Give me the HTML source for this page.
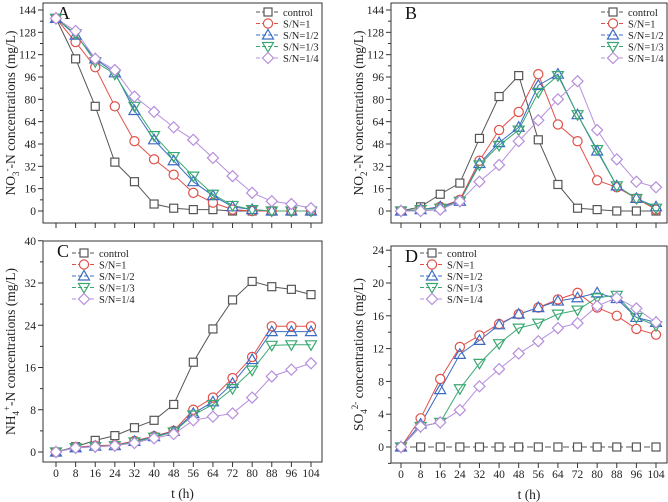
<!DOCTYPE html>
<html><head><meta charset="utf-8"><style>
body{margin:0;background:#fff}
svg{display:block;font-family:"Liberation Serif",serif}
</style></head><body>
<svg id="chart" width="668" height="502" viewBox="0 0 668 502" xmlns="http://www.w3.org/2000/svg"></svg>
<script>
const times = [0,8,16,24,32,40,48,56,64,72,80,88,96,104];
const seriesNames = ["control","S/N=1","S/N=1/2","S/N=1/3","S/N=1/4"];
const aControl = [138,109,75,35,21,5,2,1,1,0,0,0,0,0];
const aSN1 = [138,121,103,75,50,37,26,13,6,1,0,0,0,0];
const aSN2 = [138,126,109,99,72,51,36,21,11,3,1,0,0,0];
const aSN3 = [138,127,107,98,75,54,39,25,12,4,1,0,0,0];
const aSN4 = [138,129,109,101,82,71,60,51,38,25,13,7,5,2];
const bControl = [0,3,12,20,52,82,97,51,19,2,1,0,0,0];
const bSN1 = [0,1,3,8,36,58,71,98,62,50,22,17,9,1];
const bSN2 = [0,1,3,7,34,49,60,90,98,69,43,18,9,3];
const bSN3 = [0,1,2,7,33,47,58,85,97,69,44,18,9,2];
const bSN4 = [0,0,1,7,21,33,50,65,80,93,58,37,21,17];
const cControl = [0,1,2.2,3.1,4.6,6,9,17,23.3,28.8,32.3,31.3,30.8,29.8];
const cSN1 = [0,0.9,1.2,1.3,2.1,3,4,8,10.3,14,18,23.8,23.8,23.8];
const cSN2 = [0,0.8,1.1,1.2,2,2.9,3.9,7.3,9.5,13,17.5,22.8,22.8,22.8];
const cSN3 = [0,0.8,1,1.2,1.9,2.8,3.8,7,9,12,15.5,20.2,20.3,20.3];
const cSN4 = [0,0.8,1,1.2,1.7,2.6,3.4,6,6.7,7.3,10.3,14.3,15.6,16.8];
const dControl = [0,0,0,0,0,0,0,0,0,0,0,0,0,0];
const dSN1 = [0,3.5,8.3,12.2,13.6,15,16.2,17,18,18.8,17,16,14.4,13.7];
const dSN2 = [0,2.8,7,11.3,13,14.9,16.2,17,17.8,18.2,18.8,18.1,15.8,15.2];
const dSN3 = [0,2.5,3,7.1,10.2,12.6,14.5,15.1,16.2,16.7,18.2,18.5,15.8,14.8];
const dSN4 = [0,2.5,3,4.5,7.4,9.5,11.4,12.9,14.5,15.1,17.2,18.2,16.9,15.2];
const ticksNO = [0,16,32,48,64,80,96,112,128,144];
const ticksNH = [0,8,16,24,32,40];
const ticksSO = [0,4,8,12,16,20,24];

const colors = ["#555","#e0504a","#3b6cc4","#3aa872","#b68fdc"];
const markers = ["square","circle","up","down","diamond"];
const NS = "http://www.w3.org/2000/svg";
const svg = document.getElementById("chart");
function mk(tag, attrs, parent){const e=document.createElementNS(NS,tag);for(const k in attrs)e.setAttribute(k,attrs[k]);(parent||svg).appendChild(e);return e;}

function marker(g,type,x,y,c){
  let e;
  if(type==="square") e=mk("rect",{x:x-4,y:y-4,width:8,height:8,fill:"#fff",stroke:c,"stroke-width":1.2},g);
  else if(type==="circle") e=mk("circle",{cx:x,cy:y,r:4.6,fill:"#fff",stroke:c,"stroke-width":1.2},g);
  else if(type==="up") e=mk("polygon",{points:`${x},${y-5.5} ${x+5.5},${y+4} ${x-5.5},${y+4}`,fill:"none",stroke:c,"stroke-width":1.2},g);
  else if(type==="down") e=mk("polygon",{points:`${x},${y+5.5} ${x+5.5},${y-4} ${x-5.5},${y-4}`,fill:"none",stroke:c,"stroke-width":1.2},g);
  else e=mk("polygon",{points:`${x},${y-5.5} ${x+5.5},${y} ${x},${y+5.5} ${x-5.5},${y}`,fill:"#fff",stroke:c,"stroke-width":1.2},g);
  
  
}

function panel(p){
  const g=mk("g",{});
  
  
  const xs=v=>p.x0+(v-0)/104*(p.x1-p.x0);
  const ys=v=>p.y0+(v-0)/p.ymax*(p.yTop-p.y0);
  const fr=mk("rect",{x:p.L,y:p.T,width:p.R-p.L,height:p.B-p.T,fill:"none",stroke:"#333","stroke-width":1},g);
  
  times.forEach(t=>{mk("line",{x1:xs(t),x2:xs(t),y1:p.B,y2:p.B+5,stroke:"#333"},g);
    if(p.xlabels){const tx=mk("text",{x:xs(t),y:p.B+15,"text-anchor":"middle","font-size":11.5,fill:"#222"},g);tx.textContent=t;
    }});
  p.ticks.forEach((v,i)=>{const y=ys(v);mk("line",{x1:p.L-5,x2:p.L,y1:y,y2:y,stroke:"#333"},g);
    if(i<p.ticks.length-1){const ym=ys((v+p.ticks[i+1])/2);mk("line",{x1:p.L-3,x2:p.L,y1:ym,y2:ym,stroke:"#333"},g);}
    const tx=mk("text",{x:p.L-7,y:y+4,"text-anchor":"end","font-size":11.5,fill:"#222"},g);tx.textContent=v;
    });
  if(p.yBelow){const y=ys(p.yBelow);mk("line",{x1:p.L-3,x2:p.L,y1:y,y2:y,stroke:"#333"},g);}
  const lt=mk("text",{x:p.L+14,y:p.T+16,"font-size":18,fill:"#111"},g);lt.textContent=p.letter;
  
  const yl=mk("text",{transform:`translate(${p.L-28},${(p.T+p.B)/2}) rotate(-90)`,"text-anchor":"middle","font-size":13.5,fill:"#222"},g);
  yl.innerHTML=p.ylabel;
  
  if(p.xlabels){const xt=mk("text",{x:(p.L+p.R)/2,y:p.B+36,"text-anchor":"middle","font-size":13.5,fill:"#222"},g);xt.textContent="t (h)";
    }
  p.series.forEach((arr,si)=>{
    const c=colors[si];
    const pl=mk("polyline",{points:arr.map((v,i)=>xs(times[i])+","+ys(v)).join(" "),fill:"none",stroke:c,"stroke-width":1,"stroke-dasharray":si===0&&p.letter==="D"?"6,3":"none"},g);
    
  });
  p.series.forEach((arr,si)=>{arr.forEach((v,i)=>marker(g,markers[si],xs(times[i]),ys(v),colors[si]));});
  seriesNames.forEach((n,si)=>{
    const lg=mk("g",{},g);
    
    const y=p.legY+si*11.5, x=p.legX;
    mk("line",{x1:x,x2:x+24,y1:y,y2:y,stroke:colors[si],"stroke-width":1,"stroke-dasharray":"4,2"},lg);
    marker(lg,markers[si],x+12,y,colors[si]);
    const t=mk("text",{x:x+27,y:y+4,"font-size":10.5,fill:"#222"},lg);t.textContent=n;
  });
}
panel({letter:"A",L:43,R:322,T:3,B:223,x0:56,x1:311,y0:211,yTop:10,ymax:144,ticks:ticksNO,series:[aControl,aSN1,aSN2,aSN3,aSN4],legX:256,legY:12,xlabels:false,
  ylabel:'NO<tspan font-size="9" dy="4">3</tspan><tspan font-size="9" dy="-9">-</tspan><tspan dy="5">-N concentrations (mg/L)</tspan>'});
panel({letter:"B",L:391,R:667,T:3,B:223,x0:401,x1:656,y0:211,yTop:10,ymax:144,ticks:ticksNO,series:[bControl,bSN1,bSN2,bSN3,bSN4],legX:601,legY:12,xlabels:false,
  ylabel:'NO<tspan font-size="9" dy="4">2</tspan><tspan font-size="9" dy="-9">-</tspan><tspan dy="5">-N concentrations (mg/L)</tspan>'});
panel({letter:"C",L:43,R:322,T:241,B:462,x0:56,x1:311,y0:452,yTop:283,ymax:32,ticks:ticksNH,series:[cControl,cSN1,cSN2,cSN3,cSN4],legX:72,legY:253,xlabels:true,
  ylabel:'NH<tspan font-size="9" dy="4">4</tspan><tspan font-size="9" dy="-9">+</tspan><tspan dy="5">-N concentrations (mg/L)</tspan>'});
panel({letter:"D",L:391,R:667,T:246,B:463,x0:401,x1:656,y0:447,yTop:283,ymax:20,ticks:ticksSO,yBelow:-2,series:[dControl,dSN1,dSN2,dSN3,dSN4],legX:420,legY:253,xlabels:true,
  ylabel:'SO<tspan font-size="9" dy="4">4</tspan><tspan font-size="9" dy="-9">2-</tspan><tspan dy="5"> concentrations (mg/L)</tspan>'});
</script>
</body></html>
